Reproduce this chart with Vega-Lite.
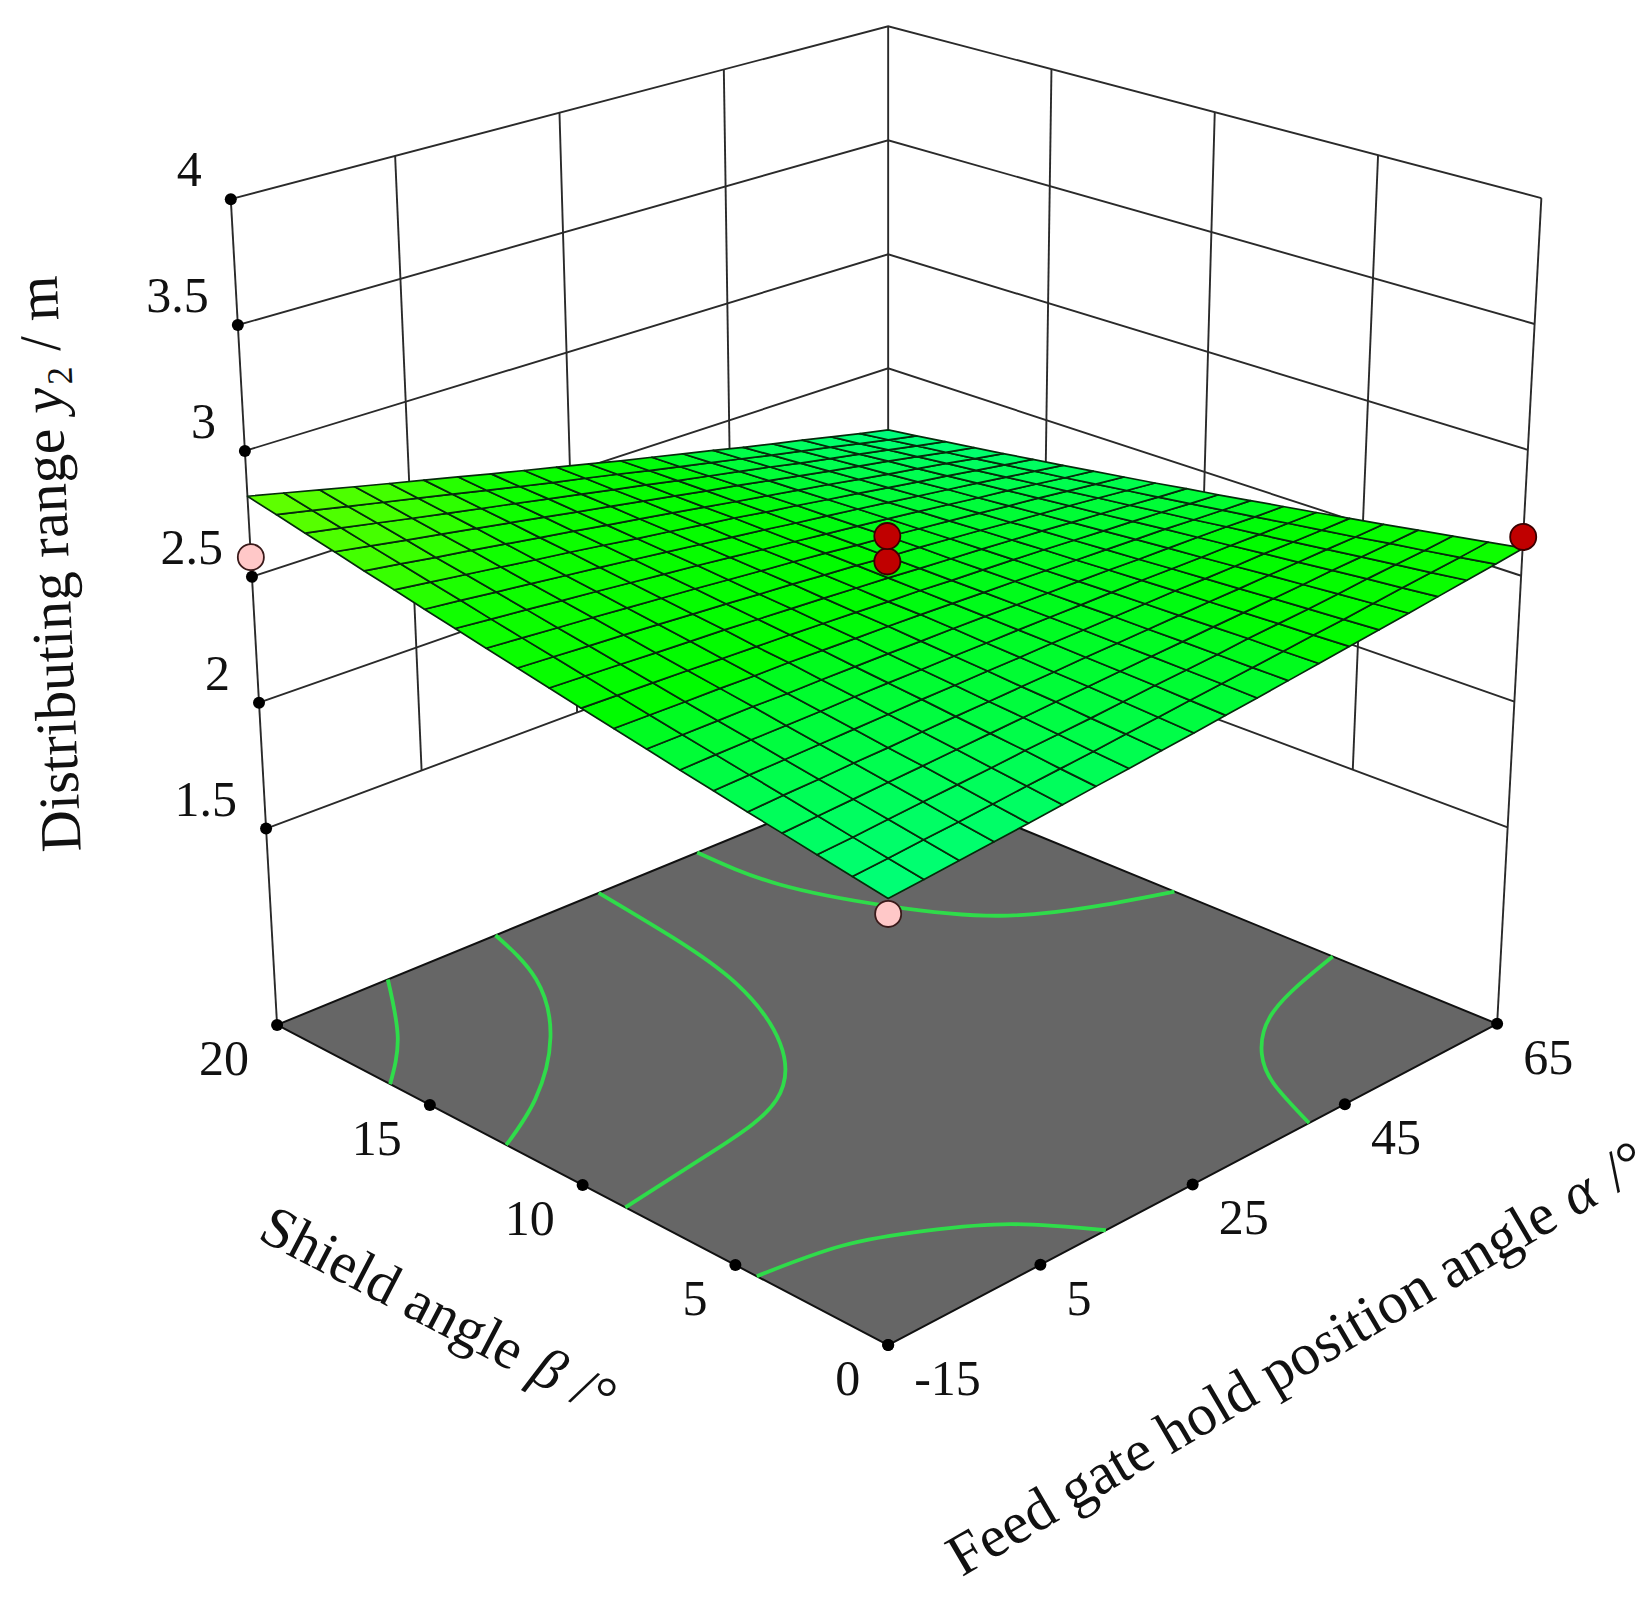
{
"$schema":"https://vega.github.io/schema/vega-lite/v6.json",
"width":1652,"height":1600,"padding":0,
"autosize":"none",
"background":"white",
"config":{"view":{"stroke":null}},
"datasets":{
"frame":[
{"k":"grid","l":"a-15","o":0,"a":-15,"b":20,"z":0.72},{"k":"grid","l":"a-15","o":1,"a":-15,"b":20,"z":4},
{"k":"grid","l":"a5","o":0,"a":5,"b":20,"z":1.5},{"k":"grid","l":"a5","o":1,"a":5,"b":20,"z":4},
{"k":"grid","l":"a25","o":0,"a":25,"b":20,"z":1.5},{"k":"grid","l":"a25","o":1,"a":25,"b":20,"z":4},
{"k":"grid","l":"a45","o":0,"a":45,"b":20,"z":1.5},{"k":"grid","l":"a45","o":1,"a":45,"b":20,"z":4},
{"k":"grid","l":"a65","o":0,"a":65,"b":20,"z":1.5},{"k":"grid","l":"a65","o":1,"a":65,"b":20,"z":4},
{"k":"grid","l":"b15","o":0,"a":65,"b":15,"z":1.5},{"k":"grid","l":"b15","o":1,"a":65,"b":15,"z":4},
{"k":"grid","l":"b10","o":0,"a":65,"b":10,"z":1.5},{"k":"grid","l":"b10","o":1,"a":65,"b":10,"z":4},
{"k":"grid","l":"b5","o":0,"a":65,"b":5,"z":1.5},{"k":"grid","l":"b5","o":1,"a":65,"b":5,"z":4},
{"k":"grid","l":"b0","o":0,"a":65,"b":0,"z":0.72},{"k":"grid","l":"b0","o":1,"a":65,"b":0,"z":4},
{"k":"grid","l":"z1.5","o":0,"a":-15,"b":20,"z":1.5},{"k":"grid","l":"z1.5","o":1,"a":65,"b":20,"z":1.5},{"k":"grid","l":"z1.5","o":2,"a":65,"b":0,"z":1.5},
{"k":"grid","l":"z2","o":0,"a":-15,"b":20,"z":2},{"k":"grid","l":"z2","o":1,"a":65,"b":20,"z":2},{"k":"grid","l":"z2","o":2,"a":65,"b":0,"z":2},
{"k":"grid","l":"z2.5","o":0,"a":-15,"b":20,"z":2.5},{"k":"grid","l":"z2.5","o":1,"a":65,"b":20,"z":2.5},{"k":"grid","l":"z2.5","o":2,"a":65,"b":0,"z":2.5},
{"k":"grid","l":"z3","o":0,"a":-15,"b":20,"z":3},{"k":"grid","l":"z3","o":1,"a":65,"b":20,"z":3},{"k":"grid","l":"z3","o":2,"a":65,"b":0,"z":3},
{"k":"grid","l":"z3.5","o":0,"a":-15,"b":20,"z":3.5},{"k":"grid","l":"z3.5","o":1,"a":65,"b":20,"z":3.5},{"k":"grid","l":"z3.5","o":2,"a":65,"b":0,"z":3.5},
{"k":"grid","l":"z4","o":0,"a":-15,"b":20,"z":4},{"k":"grid","l":"z4","o":1,"a":65,"b":20,"z":4},{"k":"grid","l":"z4","o":2,"a":65,"b":0,"z":4},
{"k":"base","l":"floor","o":0,"a":-15,"b":0,"z":0.72},{"k":"base","l":"floor","o":1,"a":65,"b":0,"z":0.72},{"k":"base","l":"floor","o":2,"a":65,"b":20,"z":0.72},{"k":"base","l":"floor","o":3,"a":-15,"b":20,"z":0.72},
{"k":"contour","l":"2.7","o":0,"a":-0.5,"b":20,"z":0.72},{"k":"contour","l":"2.7","o":1,"a":-8,"b":17.8,"z":0.72},{"k":"contour","l":"2.7","o":2,"a":-15,"b":16.3,"z":0.72},
{"k":"contour","l":"2.6","o":0,"a":13.6,"b":20,"z":0.72},{"k":"contour","l":"2.6","o":1,"a":10.1,"b":17.8,"z":0.72},{"k":"contour","l":"2.6","o":2,"a":2.8,"b":15.5,"z":0.72},{"k":"contour","l":"2.6","o":3,"a":-6.8,"b":13.6,"z":0.72},{"k":"contour","l":"2.6","o":4,"a":-15,"b":12.5,"z":0.72},
{"k":"contour","l":"2.5a","o":0,"a":27.1,"b":20,"z":0.72},{"k":"contour","l":"2.5a","o":1,"a":25.6,"b":17.2,"z":0.72},{"k":"contour","l":"2.5a","o":2,"a":23.2,"b":14.5,"z":0.72},{"k":"contour","l":"2.5a","o":3,"a":17.7,"b":11.7,"z":0.72},{"k":"contour","l":"2.5a","o":4,"a":9.6,"b":9.8,"z":0.72},{"k":"contour","l":"2.5a","o":5,"a":-0.9,"b":9.1,"z":0.72},{"k":"contour","l":"2.5a","o":6,"a":-15,"b":8.6,"z":0.72},
{"k":"contour","l":"2.5b","o":0,"a":65,"b":5.4,"z":0.72},{"k":"contour","l":"2.5b","o":1,"a":53.7,"b":4.5,"z":0.72},{"k":"contour","l":"2.5b","o":2,"a":46.9,"b":3.2,"z":0.72},{"k":"contour","l":"2.5b","o":3,"a":43.4,"b":1.9,"z":0.72},{"k":"contour","l":"2.5b","o":4,"a":40.3,"b":0,"z":0.72},
{"k":"contour","l":"2.4a","o":0,"a":-15,"b":4.3,"z":0.72},{"k":"contour","l":"2.4a","o":1,"a":-5.4,"b":3.9,"z":0.72},{"k":"contour","l":"2.4a","o":2,"a":2.1,"b":3,"z":0.72},{"k":"contour","l":"2.4a","o":3,"a":8.4,"b":1.8,"z":0.72},{"k":"contour","l":"2.4a","o":4,"a":13.6,"b":0,"z":0.72},
{"k":"contour","l":"2.4b","o":0,"a":40,"b":20,"z":0.72},{"k":"contour","l":"2.4b","o":1,"a":40.7,"b":17.5,"z":0.72},{"k":"contour","l":"2.4b","o":2,"a":44.7,"b":14.9,"z":0.72},{"k":"contour","l":"2.4b","o":3,"a":50.4,"b":12.7,"z":0.72},{"k":"contour","l":"2.4b","o":4,"a":58,"b":11.4,"z":0.72},{"k":"contour","l":"2.4b","o":5,"a":65,"b":10.6,"z":0.72},
{"k":"zt","t":"1.5","a":-15,"b":20,"z":1.5},{"k":"zt","t":"2","a":-15,"b":20,"z":2},{"k":"zt","t":"2.5","a":-15,"b":20,"z":2.5},{"k":"zt","t":"3","a":-15,"b":20,"z":3},{"k":"zt","t":"3.5","a":-15,"b":20,"z":3.5},{"k":"zt","t":"4","a":-15,"b":20,"z":4},
{"k":"bt","t":"0","a":-15,"b":0,"z":0.72},{"k":"bt","t":"5","a":-15,"b":5,"z":0.72},{"k":"bt","t":"10","a":-15,"b":10,"z":0.72},{"k":"bt","t":"15","a":-15,"b":15,"z":0.72},{"k":"bt","t":"20","a":-15,"b":20,"z":0.72},
{"k":"at","t":"-15","a":-15,"b":0,"z":0.72},{"k":"at","t":"5","a":5,"b":0,"z":0.72},{"k":"at","t":"25","a":25,"b":0,"z":0.72},{"k":"at","t":"45","a":45,"b":0,"z":0.72},{"k":"at","t":"65","a":65,"b":0,"z":0.72},
{"k":"low","a":-15,"b":20,"z":2.578},{"k":"low","a":-15,"b":0,"z":2.236},
{"k":"high","a":65,"b":0,"z":2.654},{"k":"high","a":25,"b":10,"z":2.612},{"k":"high","a":25,"b":10,"z":2.712},
{"k":"y1","t":"Distributing range","a":-15,"b":20,"z":1.5},{"k":"y2","t":"y","a":-15,"b":20,"z":1.5},{"k":"y3","t":"2","a":-15,"b":20,"z":1.5},{"k":"y4","t":"/ m","a":-15,"b":20,"z":1.5},
{"k":"s1","t":"Shield angle","a":-15,"b":10,"z":0.72},{"k":"s2","t":"β","a":-15,"b":10,"z":0.72},{"k":"s3","t":"/°","a":-15,"b":10,"z":0.72},
{"k":"f1","t":"Feed gate hold position angle","a":25,"b":0,"z":0.72},{"k":"f2","t":"α","a":25,"b":0,"z":0.72},{"k":"f3","t":"/°","a":25,"b":0,"z":0.72}
],
"nodes":[
{"n":0,"a":-15,"b":0,"y":2.29},{"n":1,"a":-15,"b":1,"y":2.313},{"n":2,"a":-15,"b":2,"y":2.336},{"n":3,"a":-15,"b":3,"y":2.36},{"n":4,"a":-15,"b":4,"y":2.383},{"n":5,"a":-15,"b":5,"y":2.408},{"n":6,"a":-15,"b":6,"y":2.432},{"n":7,"a":-15,"b":7,"y":2.458},{"n":8,"a":-15,"b":8,"y":2.483},{"n":9,"a":-15,"b":9,"y":2.509},{"n":10,"a":-15,"b":10,"y":2.535},{"n":11,"a":-15,"b":11,"y":2.562},{"n":12,"a":-15,"b":12,"y":2.589},{"n":13,"a":-15,"b":13,"y":2.617},{"n":14,"a":-15,"b":14,"y":2.644},{"n":15,"a":-15,"b":15,"y":2.673},{"n":16,"a":-15,"b":16,"y":2.701},{"n":17,"a":-15,"b":17,"y":2.731},{"n":18,"a":-15,"b":18,"y":2.76},{"n":19,"a":-15,"b":19,"y":2.79},{"n":20,"a":-15,"b":20,"y":2.82},
{"n":21,"a":-11,"b":0,"y":2.302},{"n":22,"a":-11,"b":1,"y":2.323},{"n":23,"a":-11,"b":2,"y":2.345},{"n":24,"a":-11,"b":3,"y":2.368},{"n":25,"a":-11,"b":4,"y":2.391},{"n":26,"a":-11,"b":5,"y":2.413},{"n":27,"a":-11,"b":6,"y":2.436},{"n":28,"a":-11,"b":7,"y":2.459},{"n":29,"a":-11,"b":8,"y":2.482},{"n":30,"a":-11,"b":9,"y":2.506},{"n":31,"a":-11,"b":10,"y":2.53},{"n":32,"a":-11,"b":11,"y":2.555},{"n":33,"a":-11,"b":12,"y":2.579},{"n":34,"a":-11,"b":13,"y":2.604},{"n":35,"a":-11,"b":14,"y":2.63},{"n":36,"a":-11,"b":15,"y":2.655},{"n":37,"a":-11,"b":16,"y":2.681},{"n":38,"a":-11,"b":17,"y":2.707},{"n":39,"a":-11,"b":18,"y":2.734},{"n":40,"a":-11,"b":19,"y":2.76},{"n":41,"a":-11,"b":20,"y":2.787},
{"n":42,"a":-7,"b":0,"y":2.315},{"n":43,"a":-7,"b":1,"y":2.335},{"n":44,"a":-7,"b":2,"y":2.356},{"n":45,"a":-7,"b":3,"y":2.376},{"n":46,"a":-7,"b":4,"y":2.396},{"n":47,"a":-7,"b":5,"y":2.417},{"n":48,"a":-7,"b":6,"y":2.439},{"n":49,"a":-7,"b":7,"y":2.46},{"n":50,"a":-7,"b":8,"y":2.481},{"n":51,"a":-7,"b":9,"y":2.503},{"n":52,"a":-7,"b":10,"y":2.525},{"n":53,"a":-7,"b":11,"y":2.547},{"n":54,"a":-7,"b":12,"y":2.569},{"n":55,"a":-7,"b":13,"y":2.592},{"n":56,"a":-7,"b":14,"y":2.614},{"n":57,"a":-7,"b":15,"y":2.637},{"n":58,"a":-7,"b":16,"y":2.659},{"n":59,"a":-7,"b":17,"y":2.683},{"n":60,"a":-7,"b":18,"y":2.707},{"n":61,"a":-7,"b":19,"y":2.73},{"n":62,"a":-7,"b":20,"y":2.754},
{"n":63,"a":-3,"b":0,"y":2.328},{"n":64,"a":-3,"b":1,"y":2.346},{"n":65,"a":-3,"b":2,"y":2.366},{"n":66,"a":-3,"b":3,"y":2.385},{"n":67,"a":-3,"b":4,"y":2.404},{"n":68,"a":-3,"b":5,"y":2.422},{"n":69,"a":-3,"b":6,"y":2.441},{"n":70,"a":-3,"b":7,"y":2.462},{"n":71,"a":-3,"b":8,"y":2.481},{"n":72,"a":-3,"b":9,"y":2.5},{"n":73,"a":-3,"b":10,"y":2.519},{"n":74,"a":-3,"b":11,"y":2.54},{"n":75,"a":-3,"b":12,"y":2.56},{"n":76,"a":-3,"b":13,"y":2.579},{"n":77,"a":-3,"b":14,"y":2.599},{"n":78,"a":-3,"b":15,"y":2.619},{"n":79,"a":-3,"b":16,"y":2.64},{"n":80,"a":-3,"b":17,"y":2.66},{"n":81,"a":-3,"b":18,"y":2.68},{"n":82,"a":-3,"b":19,"y":2.701},{"n":83,"a":-3,"b":20,"y":2.721},
{"n":84,"a":1,"b":0,"y":2.341},{"n":85,"a":1,"b":1,"y":2.358},{"n":86,"a":1,"b":2,"y":2.376},{"n":87,"a":1,"b":3,"y":2.393},{"n":88,"a":1,"b":4,"y":2.409},{"n":89,"a":1,"b":5,"y":2.427},{"n":90,"a":1,"b":6,"y":2.444},{"n":91,"a":1,"b":7,"y":2.461},{"n":92,"a":1,"b":8,"y":2.479},{"n":93,"a":1,"b":9,"y":2.496},{"n":94,"a":1,"b":10,"y":2.514},{"n":95,"a":1,"b":11,"y":2.532},{"n":96,"a":1,"b":12,"y":2.549},{"n":97,"a":1,"b":13,"y":2.567},{"n":98,"a":1,"b":14,"y":2.584},{"n":99,"a":1,"b":15,"y":2.601},{"n":100,"a":1,"b":16,"y":2.619},{"n":101,"a":1,"b":17,"y":2.637},{"n":102,"a":1,"b":18,"y":2.654},{"n":103,"a":1,"b":19,"y":2.672},{"n":104,"a":1,"b":20,"y":2.689},
{"n":105,"a":5,"b":0,"y":2.355},{"n":106,"a":5,"b":1,"y":2.371},{"n":107,"a":5,"b":2,"y":2.386},{"n":108,"a":5,"b":3,"y":2.402},{"n":109,"a":5,"b":4,"y":2.417},{"n":110,"a":5,"b":5,"y":2.432},{"n":111,"a":5,"b":6,"y":2.448},{"n":112,"a":5,"b":7,"y":2.463},{"n":113,"a":5,"b":8,"y":2.48},{"n":114,"a":5,"b":9,"y":2.493},{"n":115,"a":5,"b":10,"y":2.51},{"n":116,"a":5,"b":11,"y":2.524},{"n":117,"a":5,"b":12,"y":2.539},{"n":118,"a":5,"b":13,"y":2.554},{"n":119,"a":5,"b":14,"y":2.569},{"n":120,"a":5,"b":15,"y":2.584},{"n":121,"a":5,"b":16,"y":2.598},{"n":122,"a":5,"b":17,"y":2.614},{"n":123,"a":5,"b":18,"y":2.628},{"n":124,"a":5,"b":19,"y":2.643},{"n":125,"a":5,"b":20,"y":2.658},
{"n":126,"a":9,"b":0,"y":2.37},{"n":127,"a":9,"b":1,"y":2.383},{"n":128,"a":9,"b":2,"y":2.398},{"n":129,"a":9,"b":3,"y":2.411},{"n":130,"a":9,"b":4,"y":2.424},{"n":131,"a":9,"b":5,"y":2.438},{"n":132,"a":9,"b":6,"y":2.451},{"n":133,"a":9,"b":7,"y":2.464},{"n":134,"a":9,"b":8,"y":2.478},{"n":135,"a":9,"b":9,"y":2.49},{"n":136,"a":9,"b":10,"y":2.503},{"n":137,"a":9,"b":11,"y":2.516},{"n":138,"a":9,"b":12,"y":2.529},{"n":139,"a":9,"b":13,"y":2.541},{"n":140,"a":9,"b":14,"y":2.554},{"n":141,"a":9,"b":15,"y":2.566},{"n":142,"a":9,"b":16,"y":2.578},{"n":143,"a":9,"b":17,"y":2.591},{"n":144,"a":9,"b":18,"y":2.603},{"n":145,"a":9,"b":19,"y":2.614},{"n":146,"a":9,"b":20,"y":2.627},
{"n":147,"a":13,"b":0,"y":2.384},{"n":148,"a":13,"b":1,"y":2.395},{"n":149,"a":13,"b":2,"y":2.408},{"n":150,"a":13,"b":3,"y":2.42},{"n":151,"a":13,"b":4,"y":2.43},{"n":152,"a":13,"b":5,"y":2.442},{"n":153,"a":13,"b":6,"y":2.453},{"n":154,"a":13,"b":7,"y":2.465},{"n":155,"a":13,"b":8,"y":2.476},{"n":156,"a":13,"b":9,"y":2.486},{"n":157,"a":13,"b":10,"y":2.497},{"n":158,"a":13,"b":11,"y":2.507},{"n":159,"a":13,"b":12,"y":2.518},{"n":160,"a":13,"b":13,"y":2.529},{"n":161,"a":13,"b":14,"y":2.538},{"n":162,"a":13,"b":15,"y":2.547},{"n":163,"a":13,"b":16,"y":2.557},{"n":164,"a":13,"b":17,"y":2.567},{"n":165,"a":13,"b":18,"y":2.577},{"n":166,"a":13,"b":19,"y":2.585},{"n":167,"a":13,"b":20,"y":2.595},
{"n":168,"a":17,"b":0,"y":2.399},{"n":169,"a":17,"b":1,"y":2.409},{"n":170,"a":17,"b":2,"y":2.418},{"n":171,"a":17,"b":3,"y":2.429},{"n":172,"a":17,"b":4,"y":2.437},{"n":173,"a":17,"b":5,"y":2.447},{"n":174,"a":17,"b":6,"y":2.456},{"n":175,"a":17,"b":7,"y":2.465},{"n":176,"a":17,"b":8,"y":2.475},{"n":177,"a":17,"b":9,"y":2.482},{"n":178,"a":17,"b":10,"y":2.491},{"n":179,"a":17,"b":11,"y":2.5},{"n":180,"a":17,"b":12,"y":2.507},{"n":181,"a":17,"b":13,"y":2.515},{"n":182,"a":17,"b":14,"y":2.522},{"n":183,"a":17,"b":15,"y":2.53},{"n":184,"a":17,"b":16,"y":2.537},{"n":185,"a":17,"b":17,"y":2.545},{"n":186,"a":17,"b":18,"y":2.552},{"n":187,"a":17,"b":19,"y":2.557},{"n":188,"a":17,"b":20,"y":2.565},
{"n":189,"a":21,"b":0,"y":2.414},{"n":190,"a":21,"b":1,"y":2.422},{"n":191,"a":21,"b":2,"y":2.43},{"n":192,"a":21,"b":3,"y":2.438},{"n":193,"a":21,"b":4,"y":2.444},{"n":194,"a":21,"b":5,"y":2.451},{"n":195,"a":21,"b":6,"y":2.458},{"n":196,"a":21,"b":7,"y":2.466},{"n":197,"a":21,"b":8,"y":2.473},{"n":198,"a":21,"b":9,"y":2.477},{"n":199,"a":21,"b":10,"y":2.484},{"n":200,"a":21,"b":11,"y":2.49},{"n":201,"a":21,"b":12,"y":2.497},{"n":202,"a":21,"b":13,"y":2.501},{"n":203,"a":21,"b":14,"y":2.506},{"n":204,"a":21,"b":15,"y":2.512},{"n":205,"a":21,"b":16,"y":2.517},{"n":206,"a":21,"b":17,"y":2.522},{"n":207,"a":21,"b":18,"y":2.526},{"n":208,"a":21,"b":19,"y":2.531},{"n":209,"a":21,"b":20,"y":2.535},
{"n":210,"a":25,"b":0,"y":2.43},{"n":211,"a":25,"b":1,"y":2.436},{"n":212,"a":25,"b":2,"y":2.442},{"n":213,"a":25,"b":3,"y":2.447},{"n":214,"a":25,"b":4,"y":2.452},{"n":215,"a":25,"b":5,"y":2.457},{"n":216,"a":25,"b":6,"y":2.461},{"n":217,"a":25,"b":7,"y":2.466},{"n":218,"a":25,"b":8,"y":2.47},{"n":219,"a":25,"b":9,"y":2.474},{"n":220,"a":25,"b":10,"y":2.478},{"n":221,"a":25,"b":11,"y":2.482},{"n":222,"a":25,"b":12,"y":2.486},{"n":223,"a":25,"b":13,"y":2.488},{"n":224,"a":25,"b":14,"y":2.491},{"n":225,"a":25,"b":15,"y":2.495},{"n":226,"a":25,"b":16,"y":2.496},{"n":227,"a":25,"b":17,"y":2.499},{"n":228,"a":25,"b":18,"y":2.502},{"n":229,"a":25,"b":19,"y":2.504},{"n":230,"a":25,"b":20,"y":2.505},
{"n":231,"a":29,"b":0,"y":2.446},{"n":232,"a":29,"b":1,"y":2.45},{"n":233,"a":29,"b":2,"y":2.453},{"n":234,"a":29,"b":3,"y":2.456},{"n":235,"a":29,"b":4,"y":2.458},{"n":236,"a":29,"b":5,"y":2.461},{"n":237,"a":29,"b":6,"y":2.463},{"n":238,"a":29,"b":7,"y":2.465},{"n":239,"a":29,"b":8,"y":2.467},{"n":240,"a":29,"b":9,"y":2.468},{"n":241,"a":29,"b":10,"y":2.47},{"n":242,"a":29,"b":11,"y":2.471},{"n":243,"a":29,"b":12,"y":2.473},{"n":244,"a":29,"b":13,"y":2.474},{"n":245,"a":29,"b":14,"y":2.474},{"n":246,"a":29,"b":15,"y":2.475},{"n":247,"a":29,"b":16,"y":2.475},{"n":248,"a":29,"b":17,"y":2.476},{"n":249,"a":29,"b":18,"y":2.476},{"n":250,"a":29,"b":19,"y":2.476},{"n":251,"a":29,"b":20,"y":2.475},
{"n":252,"a":33,"b":0,"y":2.463},{"n":253,"a":33,"b":1,"y":2.463},{"n":254,"a":33,"b":2,"y":2.464},{"n":255,"a":33,"b":3,"y":2.465},{"n":256,"a":33,"b":4,"y":2.465},{"n":257,"a":33,"b":5,"y":2.466},{"n":258,"a":33,"b":6,"y":2.465},{"n":259,"a":33,"b":7,"y":2.465},{"n":260,"a":33,"b":8,"y":2.465},{"n":261,"a":33,"b":9,"y":2.464},{"n":262,"a":33,"b":10,"y":2.463},{"n":263,"a":33,"b":11,"y":2.464},{"n":264,"a":33,"b":12,"y":2.463},{"n":265,"a":33,"b":13,"y":2.461},{"n":266,"a":33,"b":14,"y":2.459},{"n":267,"a":33,"b":15,"y":2.458},{"n":268,"a":33,"b":16,"y":2.455},{"n":269,"a":33,"b":17,"y":2.455},{"n":270,"a":33,"b":18,"y":2.452},{"n":271,"a":33,"b":19,"y":2.449},{"n":272,"a":33,"b":20,"y":2.447},
{"n":273,"a":37,"b":0,"y":2.48},{"n":274,"a":37,"b":1,"y":2.478},{"n":275,"a":37,"b":2,"y":2.478},{"n":276,"a":37,"b":3,"y":2.475},{"n":277,"a":37,"b":4,"y":2.472},{"n":278,"a":37,"b":5,"y":2.47},{"n":279,"a":37,"b":6,"y":2.468},{"n":280,"a":37,"b":7,"y":2.465},{"n":281,"a":37,"b":8,"y":2.462},{"n":282,"a":37,"b":9,"y":2.46},{"n":283,"a":37,"b":10,"y":2.457},{"n":284,"a":37,"b":11,"y":2.454},{"n":285,"a":37,"b":12,"y":2.45},{"n":286,"a":37,"b":13,"y":2.447},{"n":287,"a":37,"b":14,"y":2.443},{"n":288,"a":37,"b":15,"y":2.439},{"n":289,"a":37,"b":16,"y":2.435},{"n":290,"a":37,"b":17,"y":2.432},{"n":291,"a":37,"b":18,"y":2.428},{"n":292,"a":37,"b":19,"y":2.423},{"n":293,"a":37,"b":20,"y":2.419},
{"n":294,"a":41,"b":0,"y":2.498},{"n":295,"a":41,"b":1,"y":2.493},{"n":296,"a":41,"b":2,"y":2.489},{"n":297,"a":41,"b":3,"y":2.484},{"n":298,"a":41,"b":4,"y":2.479},{"n":299,"a":41,"b":5,"y":2.475},{"n":300,"a":41,"b":6,"y":2.47},{"n":301,"a":41,"b":7,"y":2.465},{"n":302,"a":41,"b":8,"y":2.459},{"n":303,"a":41,"b":9,"y":2.455},{"n":304,"a":41,"b":10,"y":2.449},{"n":305,"a":41,"b":11,"y":2.444},{"n":306,"a":41,"b":12,"y":2.438},{"n":307,"a":41,"b":13,"y":2.433},{"n":308,"a":41,"b":14,"y":2.427},{"n":309,"a":41,"b":15,"y":2.421},{"n":310,"a":41,"b":16,"y":2.415},{"n":311,"a":41,"b":17,"y":2.409},{"n":312,"a":41,"b":18,"y":2.404},{"n":313,"a":41,"b":19,"y":2.397},{"n":314,"a":41,"b":20,"y":2.391},
{"n":315,"a":45,"b":0,"y":2.515},{"n":316,"a":45,"b":1,"y":2.507},{"n":317,"a":45,"b":2,"y":2.5},{"n":318,"a":45,"b":3,"y":2.493},{"n":319,"a":45,"b":4,"y":2.485},{"n":320,"a":45,"b":5,"y":2.478},{"n":321,"a":45,"b":6,"y":2.471},{"n":322,"a":45,"b":7,"y":2.463},{"n":323,"a":45,"b":8,"y":2.456},{"n":324,"a":45,"b":9,"y":2.449},{"n":325,"a":45,"b":10,"y":2.442},{"n":326,"a":45,"b":11,"y":2.433},{"n":327,"a":45,"b":12,"y":2.426},{"n":328,"a":45,"b":13,"y":2.418},{"n":329,"a":45,"b":14,"y":2.41},{"n":330,"a":45,"b":15,"y":2.402},{"n":331,"a":45,"b":16,"y":2.394},{"n":332,"a":45,"b":17,"y":2.386},{"n":333,"a":45,"b":18,"y":2.378},{"n":334,"a":45,"b":19,"y":2.37},{"n":335,"a":45,"b":20,"y":2.362},
{"n":336,"a":49,"b":0,"y":2.533},{"n":337,"a":49,"b":1,"y":2.523},{"n":338,"a":49,"b":2,"y":2.513},{"n":339,"a":49,"b":3,"y":2.503},{"n":340,"a":49,"b":4,"y":2.493},{"n":341,"a":49,"b":5,"y":2.482},{"n":342,"a":49,"b":6,"y":2.472},{"n":343,"a":49,"b":7,"y":2.463},{"n":344,"a":49,"b":8,"y":2.453},{"n":345,"a":49,"b":9,"y":2.443},{"n":346,"a":49,"b":10,"y":2.433},{"n":347,"a":49,"b":11,"y":2.423},{"n":348,"a":49,"b":12,"y":2.413},{"n":349,"a":49,"b":13,"y":2.403},{"n":350,"a":49,"b":14,"y":2.394},{"n":351,"a":49,"b":15,"y":2.383},{"n":352,"a":49,"b":16,"y":2.373},{"n":353,"a":49,"b":17,"y":2.365},{"n":354,"a":49,"b":18,"y":2.355},{"n":355,"a":49,"b":19,"y":2.345},{"n":356,"a":49,"b":20,"y":2.335},
{"n":357,"a":53,"b":0,"y":2.552},{"n":358,"a":53,"b":1,"y":2.539},{"n":359,"a":53,"b":2,"y":2.527},{"n":360,"a":53,"b":3,"y":2.514},{"n":361,"a":53,"b":4,"y":2.5},{"n":362,"a":53,"b":5,"y":2.488},{"n":363,"a":53,"b":6,"y":2.475},{"n":364,"a":53,"b":7,"y":2.463},{"n":365,"a":53,"b":8,"y":2.451},{"n":366,"a":53,"b":9,"y":2.438},{"n":367,"a":53,"b":10,"y":2.425},{"n":368,"a":53,"b":11,"y":2.414},{"n":369,"a":53,"b":12,"y":2.402},{"n":370,"a":53,"b":13,"y":2.39},{"n":371,"a":53,"b":14,"y":2.378},{"n":372,"a":53,"b":15,"y":2.366},{"n":373,"a":53,"b":16,"y":2.354},{"n":374,"a":53,"b":17,"y":2.344},{"n":375,"a":53,"b":18,"y":2.332},{"n":376,"a":53,"b":19,"y":2.32},{"n":377,"a":53,"b":20,"y":2.309},
{"n":378,"a":57,"b":0,"y":2.571},{"n":379,"a":57,"b":1,"y":2.554},{"n":380,"a":57,"b":2,"y":2.539},{"n":381,"a":57,"b":3,"y":2.523},{"n":382,"a":57,"b":4,"y":2.507},{"n":383,"a":57,"b":5,"y":2.491},{"n":384,"a":57,"b":6,"y":2.476},{"n":385,"a":57,"b":7,"y":2.462},{"n":386,"a":57,"b":8,"y":2.446},{"n":387,"a":57,"b":9,"y":2.432},{"n":388,"a":57,"b":10,"y":2.417},{"n":389,"a":57,"b":11,"y":2.403},{"n":390,"a":57,"b":12,"y":2.388},{"n":391,"a":57,"b":13,"y":2.375},{"n":392,"a":57,"b":14,"y":2.361},{"n":393,"a":57,"b":15,"y":2.347},{"n":394,"a":57,"b":16,"y":2.334},{"n":395,"a":57,"b":17,"y":2.321},{"n":396,"a":57,"b":18,"y":2.308},{"n":397,"a":57,"b":19,"y":2.294},{"n":398,"a":57,"b":20,"y":2.282},
{"n":399,"a":61,"b":0,"y":2.59},{"n":400,"a":61,"b":1,"y":2.57},{"n":401,"a":61,"b":2,"y":2.551},{"n":402,"a":61,"b":3,"y":2.533},{"n":403,"a":61,"b":4,"y":2.513},{"n":404,"a":61,"b":5,"y":2.495},{"n":405,"a":61,"b":6,"y":2.478},{"n":406,"a":61,"b":7,"y":2.459},{"n":407,"a":61,"b":8,"y":2.442},{"n":408,"a":61,"b":9,"y":2.425},{"n":409,"a":61,"b":10,"y":2.408},{"n":410,"a":61,"b":11,"y":2.392},{"n":411,"a":61,"b":12,"y":2.375},{"n":412,"a":61,"b":13,"y":2.359},{"n":413,"a":61,"b":14,"y":2.344},{"n":414,"a":61,"b":15,"y":2.328},{"n":415,"a":61,"b":16,"y":2.313},{"n":416,"a":61,"b":17,"y":2.298},{"n":417,"a":61,"b":18,"y":2.284},{"n":418,"a":61,"b":19,"y":2.269},{"n":419,"a":61,"b":20,"y":2.255},
{"n":420,"a":65,"b":0,"y":2.61},{"n":421,"a":65,"b":1,"y":2.587},{"n":422,"a":65,"b":2,"y":2.565},{"n":423,"a":65,"b":3,"y":2.543},{"n":424,"a":65,"b":4,"y":2.521},{"n":425,"a":65,"b":5,"y":2.5},{"n":426,"a":65,"b":6,"y":2.479},{"n":427,"a":65,"b":7,"y":2.459},{"n":428,"a":65,"b":8,"y":2.439},{"n":429,"a":65,"b":9,"y":2.419},{"n":430,"a":65,"b":10,"y":2.401},{"n":431,"a":65,"b":11,"y":2.381},{"n":432,"a":65,"b":12,"y":2.363},{"n":433,"a":65,"b":13,"y":2.345},{"n":434,"a":65,"b":14,"y":2.327},{"n":435,"a":65,"b":15,"y":2.31},{"n":436,"a":65,"b":16,"y":2.293},{"n":437,"a":65,"b":17,"y":2.277},{"n":438,"a":65,"b":18,"y":2.261},{"n":439,"a":65,"b":19,"y":2.245},{"n":440,"a":65,"b":20,"y":2.23}
]},
"data":{"name":"frame"},
"transform":[
{"calculate":"(datum.a+15)/80","as":"u"},
{"calculate":"datum.b/20","as":"v"},
{"calculate":"datum.z-0.72","as":"h"},
{"calculate":"843+578*datum.u-580*datum.v+2*datum.u*datum.v+datum.h*(12.8*datum.u-13.4*datum.v+0.6*datum.u*datum.v)","as":"X"},
{"calculate":"1277-305*datum.u-304*datum.v+67*datum.u*datum.v-datum.h*(270-31*datum.u-31*datum.v+8.5*datum.u*datum.v)","as":"Y"}
],
"encoding":{
"x":{"field":"X","type":"quantitative","scale":{"domain":[0,1568],"nice":false,"zero":false},"axis":null},
"y":{"field":"Y","type":"quantitative","scale":{"domain":[1519,0],"nice":false,"zero":false},"axis":null}
},
"layer":[
{"transform":[{"filter":"datum.k=='grid'"}],"mark":{"type":"line","stroke":"#2a2a2a","strokeWidth":1.9},"encoding":{"detail":{"field":"l"},"order":{"field":"o"}}},
{"transform":[{"filter":"datum.k=='base'"}],"mark":{"type":"line","interpolate":"linear-closed","fill":"#666666","stroke":"#111111","strokeWidth":2},"encoding":{"detail":{"field":"l"},"order":{"field":"o"}}},
{"transform":[{"filter":"datum.k=='contour'"}],"mark":{"type":"line","interpolate":"natural","stroke":"#2fdc4a","strokeWidth":3.8},"encoding":{"detail":{"field":"l"},"order":{"field":"o"}}},
{"transform":[{"filter":"datum.k=='zt'||datum.k=='bt'||datum.k=='at'"}],"mark":{"type":"point","filled":true,"shape":"circle","size":144,"color":"#000000","opacity":1}},
{"data":{"name":"nodes"},
"transform":[
{"filter":"datum.a<65&&datum.b<20"},
{"calculate":"[0,1,2,3]","as":"w"},
{"flatten":["w"]},
{"calculate":"datum.n+[0,21,22,1][datum.w]","as":"m"},
{"lookup":"m","from":{"data":{"name":"nodes"},"key":"n","fields":["a","b","y"]},"as":["va","vb","vz"]},
{"calculate":"(datum.va+15)/80","as":"u"},
{"calculate":"datum.vb/20","as":"v"},
{"calculate":"datum.vz-0.72","as":"h"},
{"calculate":"1+0.143*datum.u+0.139*datum.v","as":"d"},
{"calculate":"843+((781.2*datum.u-543.4*datum.v+843)/datum.d-843)*(1+0.0231*datum.h)","as":"X"},
{"calculate":"(1277-166*datum.u-168.7*datum.v)/datum.d-datum.h*(270-31*datum.u-31*datum.v+8.5*datum.u*datum.v)","as":"Y"}
],
"mark":{"type":"line","interpolate":"linear-closed","stroke":"#062b0c","strokeWidth":1.7,"strokeJoin":"round"},
"encoding":{"detail":{"field":"n"},"order":{"field":"w"},
"fill":{"field":"y","type":"quantitative","legend":null,"scale":{"domain":[2.23,2.48,2.62,2.82],"range":["#00ff88","#00fc00","#10ff00","#66ff00"]}}}},
{"transform":[{"filter":"datum.k=='low'"}],"mark":{"type":"point","filled":true,"shape":"circle","size":680,"fill":"#ffc8c8","stroke":"#3a1a1a","strokeWidth":1.8,"opacity":1}},
{"transform":[{"filter":"datum.k=='high'"}],"mark":{"type":"point","filled":true,"shape":"circle","size":680,"fill":"#c00000","stroke":"#3a0000","strokeWidth":1.8,"opacity":1}},
{"transform":[{"filter":"datum.k=='zt'"}],"mark":{"type":"text","font":"Liberation Serif","fontSize":50,"align":"right","baseline":"middle","dx":-29,"dy":-28,"color":"#111111"},"encoding":{"text":{"field":"t"}}},
{"transform":[{"filter":"datum.k=='bt'"}],"mark":{"type":"text","font":"Liberation Serif","fontSize":50,"align":"right","baseline":"middle","dx":-28,"dy":35,"color":"#111111"},"encoding":{"text":{"field":"t"}}},
{"transform":[{"filter":"datum.k=='at'"}],"mark":{"type":"text","font":"Liberation Serif","fontSize":50,"align":"left","baseline":"middle","dx":26,"dy":35,"color":"#111111"},"encoding":{"text":{"field":"t"}}},
{"transform":[{"filter":"datum.k=='y1'"}],"mark":{"type":"text","font":"Liberation Serif","fontSize":58,"angle":267.6,"align":"left","baseline":"alphabetic","dx":-15,"dy":-186,"color":"#111111"},"encoding":{"text":{"field":"t"}}},
{"transform":[{"filter":"datum.k=='y2'"}],"mark":{"type":"text","font":"Liberation Serif","fontStyle":"italic","fontSize":58,"angle":267.6,"align":"left","baseline":"alphabetic","dx":424,"dy":-186,"color":"#111111"},"encoding":{"text":{"field":"t"}}},
{"transform":[{"filter":"datum.k=='y3'"}],"mark":{"type":"text","font":"Liberation Serif","fontSize":36,"angle":267.6,"align":"left","baseline":"alphabetic","dx":452,"dy":-175,"color":"#111111"},"encoding":{"text":{"field":"t"}}},
{"transform":[{"filter":"datum.k=='y4'"}],"mark":{"type":"text","font":"Liberation Serif","fontSize":58,"angle":267.6,"align":"left","baseline":"alphabetic","dx":486,"dy":-186,"color":"#111111"},"encoding":{"text":{"field":"t"}}},
{"transform":[{"filter":"datum.k=='s1'"}],"mark":{"type":"text","font":"Liberation Serif","fontSize":58,"angle":27.5,"align":"left","baseline":"alphabetic","dx":-265,"dy":198,"color":"#111111"},"encoding":{"text":{"field":"t"}}},
{"transform":[{"filter":"datum.k=='s2'"}],"mark":{"type":"text","font":"Liberation Serif","fontStyle":"italic","fontSize":58,"angle":27.5,"align":"left","baseline":"alphabetic","dx":41,"dy":198,"color":"#111111"},"encoding":{"text":{"field":"t"}}},
{"transform":[{"filter":"datum.k=='s3'"}],"mark":{"type":"text","font":"Liberation Serif","fontSize":58,"angle":27.5,"align":"left","baseline":"alphabetic","dx":87,"dy":198,"color":"#111111"},"encoding":{"text":{"field":"t"}}},
{"transform":[{"filter":"datum.k=='f1'"}],"mark":{"type":"text","font":"Liberation Serif","fontSize":59,"angle":-30.4,"align":"left","baseline":"alphabetic","dx":-398,"dy":222,"color":"#111111"},"encoding":{"text":{"field":"t"}}},
{"transform":[{"filter":"datum.k=='f2'"}],"mark":{"type":"text","font":"Liberation Serif","fontStyle":"italic","fontSize":59,"angle":-30.4,"align":"left","baseline":"alphabetic","dx":313,"dy":222,"color":"#111111"},"encoding":{"text":{"field":"t"}}},
{"transform":[{"filter":"datum.k=='f3'"}],"mark":{"type":"text","font":"Liberation Serif","fontSize":59,"angle":-30.4,"align":"left","baseline":"alphabetic","dx":362,"dy":222,"color":"#111111"},"encoding":{"text":{"field":"t"}}}
]
}
